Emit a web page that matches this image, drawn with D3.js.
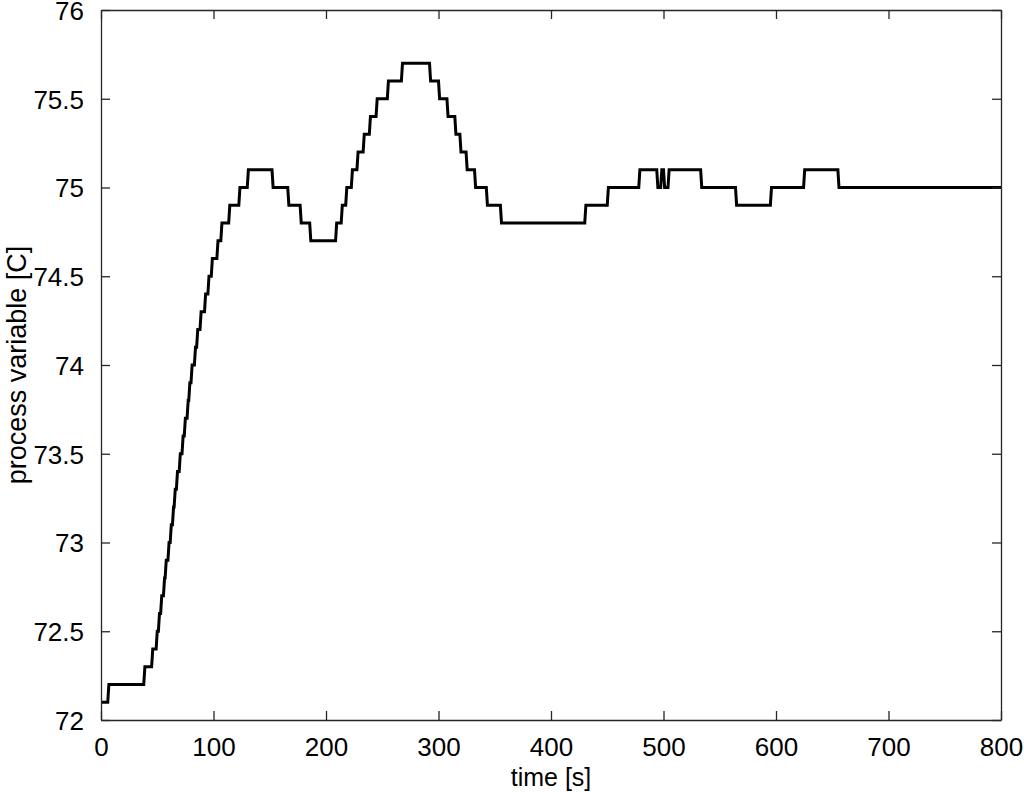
<!DOCTYPE html>
<html>
<head>
<meta charset="utf-8">
<script src="https://cdn.jsdelivr.net/npm/d3@7"></script>
<style>
  body { margin: 0; background: #fff; }
  text { font-family: "Liberation Sans", Arial, sans-serif; fill: #000; }
</style>
</head>
<body>
<div id="graph"></div>
<script>
// step data: value holds from each time until the next one
var stepTimes = [0, 7, 39, 46, 50, 52, 54, 56.5, 58, 60.5, 62.5, 64.5, 66, 68, 70.5, 73, 75, 77.5,
    79, 81, 84, 86, 89, 93, 96, 99, 104, 107.5, 114.5, 123.5, 131, 153, 167, 178, 186.5,
    209.5, 214.5, 218.5, 223.5, 228.5, 234, 239.5, 245.5, 255.5, 268, 293, 301, 308.5, 315.5,
    320, 325.5, 333, 343.5, 356, 431, 451, 479, 495, 498.5, 501, 505, 534, 565, 596, 625.5,
    656, 800];
var stepValues = [72.1, 72.2, 72.3, 72.4, 72.5, 72.6, 72.7, 72.8, 72.9, 73.0, 73.1, 73.2, 73.3, 73.4, 73.5, 73.6, 73.7, 73.8,
    73.9, 74.0, 74.1, 74.2, 74.3, 74.4, 74.5, 74.6, 74.7, 74.8, 74.9, 75.0, 75.1, 75.0, 74.9, 74.8, 74.7,
    74.8, 74.9, 75.0, 75.1, 75.2, 75.3, 75.4, 75.5, 75.6, 75.7, 75.6, 75.5, 75.4, 75.3,
    75.2, 75.1, 75.0, 74.9, 74.8, 74.9, 75.0, 75.1, 75.0, 75.1, 75.0, 75.1, 75.0, 74.9, 75.0, 75.1,
    75.0, 75.0];

var xTicks = [0, 100, 200, 300, 400, 500, 600, 700, 800];
var yTicks = [72, 72.5, 73, 73.5, 74, 74.5, 75, 75.5, 76];
var xLabel = "time [s]";
var yLabel = "process variable [C]";

var svgWidth = 1024;
var svgHeight = 792;
var plot = {left: 101, top: 10, right: 1001, bottom: 720};
var tickLen = 9;
var fontSize = 26;
var sampleTime = 1; // each jump takes one sample, so risers lean a little

var $svg = d3.select("#graph")
    .append("svg")
    .attr("width", svgWidth)
    .attr("height", svgHeight);

var x = d3.scaleLinear().domain([0, 800]).range([plot.left, plot.right]);
var y = d3.scaleLinear().domain([72, 76]).range([plot.bottom, plot.top]);

// turn steps into sampled points: old value one sample before the jump, new value at it
var points = [[stepTimes[0], stepValues[0]]];
for (var i = 1; i < stepTimes.length; i++) {
    if (stepValues[i] !== stepValues[i - 1]) {
        points.push([stepTimes[i] - sampleTime, stepValues[i - 1]]);
    }
    points.push([stepTimes[i], stepValues[i]]);
}

$svg.append("path")
    .datum(points)
    .attr("fill", "none")
    .attr("stroke", "#000")
    .attr("stroke-width", 3)
    .attr("stroke-linejoin", "miter")
    .attr("d", d3.line()
        .x(d => x(d[0]))
        .y(d => y(d[1])));

// axes, ticks pointing inward like matlab
var axisColor = "#262626";
var $bottom = $svg.append("g")
    .attr("transform", `translate(0,${plot.bottom})`)
    .call(d3.axisBottom(x).tickValues(xTicks).tickSizeInner(-tickLen).tickSizeOuter(0).tickPadding(tickLen + 9).tickFormat(d3.format("d")));
var $top = $svg.append("g")
    .attr("transform", `translate(0,${plot.top})`)
    .call(d3.axisTop(x).tickValues(xTicks).tickSizeInner(-tickLen).tickSizeOuter(0).tickFormat(""));
var $left = $svg.append("g")
    .attr("transform", `translate(${plot.left},0)`)
    .call(d3.axisLeft(y).tickValues(yTicks).tickSizeInner(-tickLen).tickSizeOuter(0).tickPadding(tickLen + 8).tickFormat(d3.format("")));
var $right = $svg.append("g")
    .attr("transform", `translate(${plot.right},0)`)
    .call(d3.axisRight(y).tickValues(yTicks).tickSizeInner(-tickLen).tickSizeOuter(0).tickFormat(""));

[$bottom, $top, $left, $right].forEach($g => {
    $g.selectAll("path.domain").attr("stroke", axisColor).attr("stroke-width", 1.3);
    $g.selectAll(".tick line").attr("stroke", axisColor).attr("stroke-width", 1.3);
    $g.selectAll(".tick text")
        .attr("fill", "#000")
        .style("font-family", '"Liberation Sans", Arial, sans-serif')
        .style("font-size", fontSize + "px");
});
$left.selectAll(".tick text").attr("dy", "0.36em");

$svg.append("text")
    .attr("x", (plot.left + plot.right) / 2)
    .attr("y", 786)
    .attr("text-anchor", "middle")
    .style("font-size", "25px")
    .text(xLabel);

$svg.append("text")
    .attr("transform", `translate(26,${(plot.top + plot.bottom) / 2}) rotate(-90)`)
    .attr("text-anchor", "middle")
    .style("font-size", "27px")
    .text(yLabel);
</script>
</body>
</html>
